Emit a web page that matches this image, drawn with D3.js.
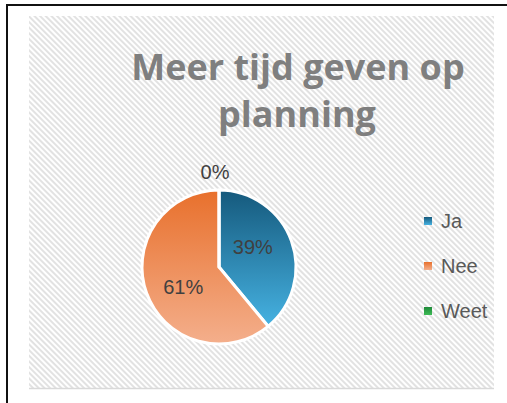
<!DOCTYPE html>
<html><head><meta charset="utf-8">
<script src="https://cdn.jsdelivr.net/npm/d3@7"></script>
<style>html,body{margin:0;padding:0;background:#fff;}svg{display:block;}</style>
</head><body>
<svg id="c" width="507" height="403"></svg>
<script>
const title = ["Meer tijd geven op", "planning"];
const categories = ["Ja", "Nee", "Weet"];
const values = [39, 61, 0];
const labels = ["39%", "61%", "0%"];
const colorTop = ["#15597c", "#e8702c", "#1f8a3a"];
const colorBottom = ["#46b2e2", "#f4af8c", "#3dbb55"];

const svg = d3.select("#c");
const defs = svg.append("defs");
const pat = defs.append("pattern").attr("id","hatch").attr("patternUnits","userSpaceOnUse")
  .attr("width",4).attr("height",4).attr("patternTransform","rotate(-45)");
pat.append("rect").attr("width",4).attr("height",4).attr("fill","#ffffff");
pat.append("rect").attr("x",0).attr("width",2).attr("height",4).attr("fill","#e2e2e2");

// outer frame lines
svg.append("line").attr("x1",7).attr("x2",507).attr("y1",5).attr("y2",5).attr("stroke","#111").attr("stroke-width",2);
svg.append("line").attr("x1",7).attr("x2",7).attr("y1",4).attr("y2",403).attr("stroke","#111").attr("stroke-width",2);

const area = {x:29, y:16, w:465, h:372};
defs.append("clipPath").attr("id","clipA").append("rect")
  .attr("x",area.x).attr("y",area.y).attr("width",area.w).attr("height",area.h);
svg.append("rect").attr("x",area.x).attr("y",area.y).attr("width",area.w).attr("height",area.h)
  .attr("fill","url(#hatch)");
svg.append("line").attr("x1",area.x).attr("x2",area.x+area.w).attr("y1",area.y+area.h+0.5).attr("y2",area.y+area.h+0.5)
  .attr("stroke","#d9d9d9").attr("stroke-width",1.5);

const g = svg.append("g").attr("clip-path","url(#clipA)");

// title
g.append("text").attr("x",298).attr("y",80).attr("text-anchor","middle")
  .attr("font-family","Open Sans").attr("font-weight","bold").attr("font-size",36).attr("fill","#7f7f7f")
  .text(title[0]);
g.append("text").attr("x",297).attr("y",127).attr("text-anchor","middle")
  .attr("font-family","Open Sans").attr("font-weight","bold").attr("font-size",36).attr("fill","#7f7f7f")
  .text(title[1]);

// gradients
categories.forEach((c,i)=>{
  const lg = defs.append("linearGradient").attr("id","g"+i).attr("x1",0).attr("x2",0).attr("y1",0).attr("y2",1);
  lg.append("stop").attr("offset","0%").attr("stop-color",colorTop[i]);
  lg.append("stop").attr("offset","100%").attr("stop-color",colorBottom[i]);
});

const cx = 219, cy = 267, r = 77;
const pie = d3.pie().sort(null).value(d=>d);
const arcs = pie(values);
const arc = d3.arc().innerRadius(0).outerRadius(r);
const pg = g.append("g").attr("transform",`translate(${cx},${cy})`);
pg.selectAll("path").data(arcs).enter().append("path")
  .attr("d",arc).attr("fill",(d,i)=>`url(#g${i})`)
  .attr("stroke","#fff").attr("stroke-width",3).attr("stroke-linejoin","round");

const labelArc = d3.arc().innerRadius(r*0.48).outerRadius(r*0.48);
pg.selectAll("text.lbl").data(arcs).enter().append("text")
  .attr("class","lbl")
  .attr("transform",(d,i)=>{
    if (d.endAngle - d.startAngle < 1e-6) return `translate(${-4},${-r-18})`;
    const p = labelArc.centroid(d); return `translate(${p[0]-1},${p[1]*1.6})`;
  })
  .attr("text-anchor","middle").attr("dy","0.36em")
  .attr("font-family","Liberation Sans, Arial").attr("font-size",20).attr("fill","#404040")
  .text((d,i)=>labels[i]);

// legend
const leg = g.append("g");
const ly = d3.scalePoint().domain(categories).range([221, 311]);
categories.forEach((c,i)=>{
  leg.append("rect").attr("x",424).attr("y",ly(c)-4).attr("width",8).attr("height",8)
    .attr("fill",`url(#g${i})`);
  leg.append("text").attr("x",441).attr("y",ly(c)+7)
    .attr("font-family","Liberation Sans, Arial").attr("font-size",20).attr("fill","#595959")
    .text(c);
});
</script>
</body></html>
